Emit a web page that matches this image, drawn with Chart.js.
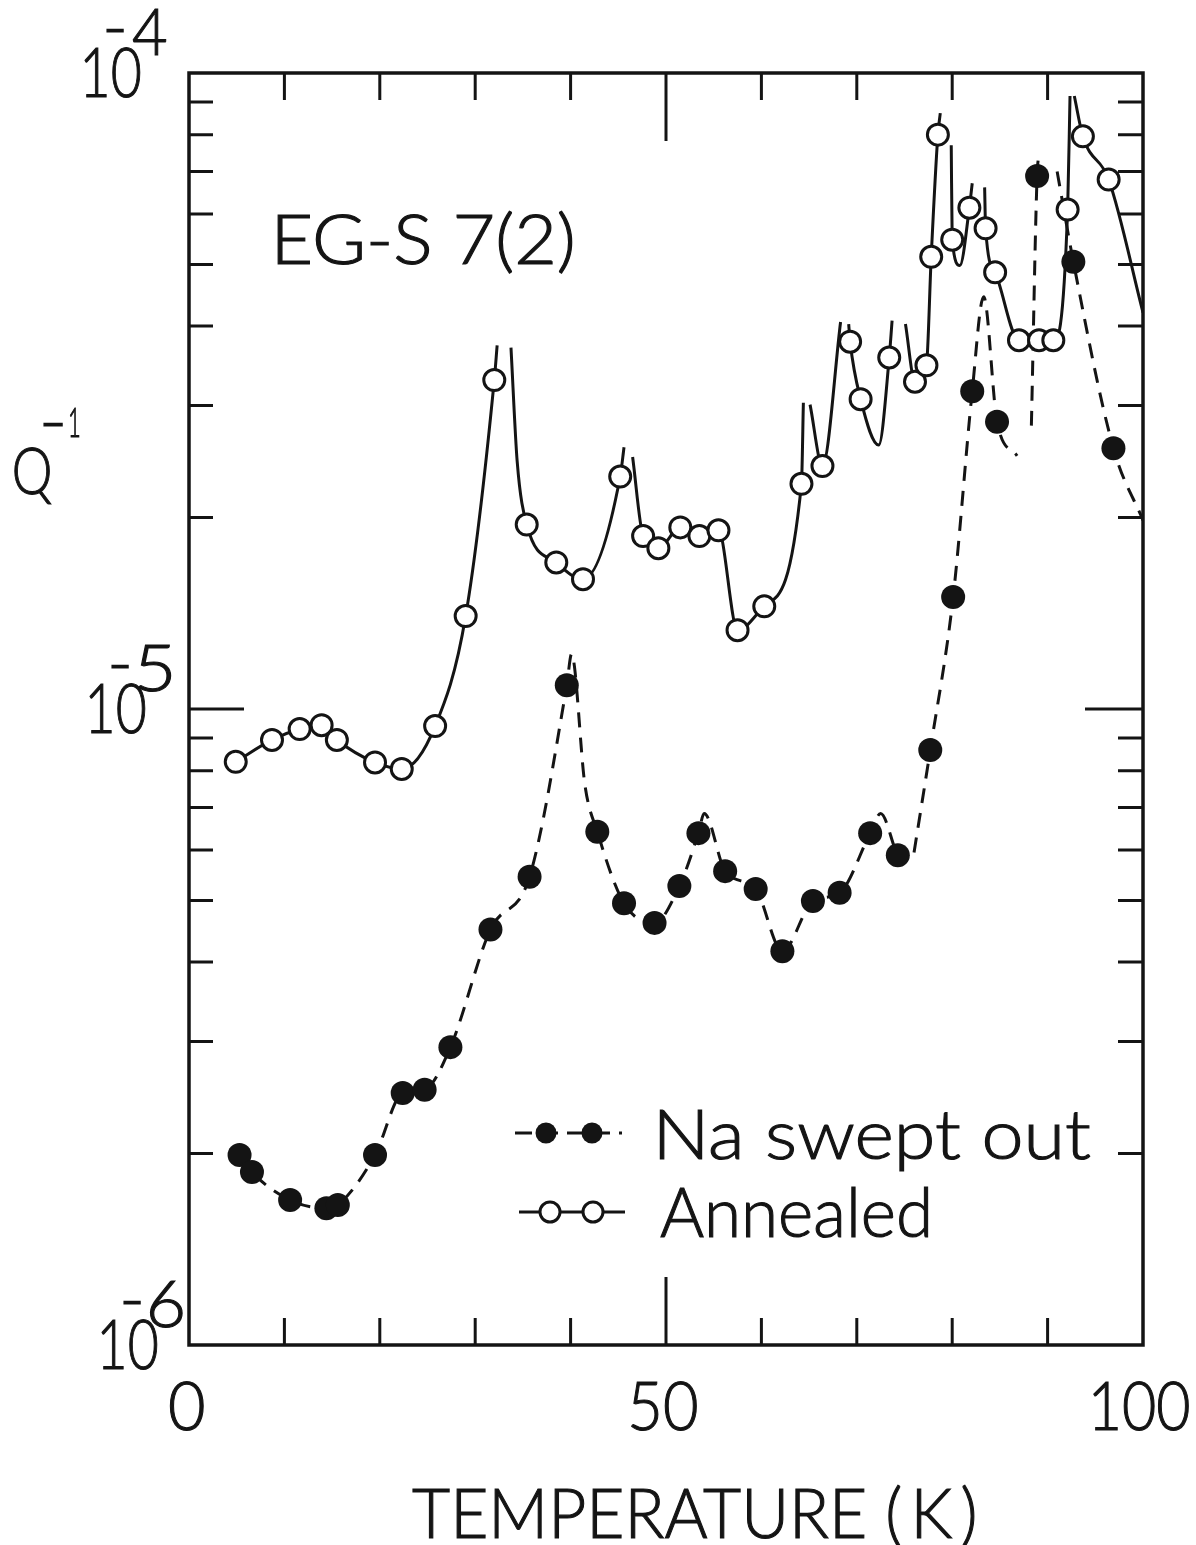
<!DOCTYPE html>
<html>
<head>
<meta charset="utf-8">
<script src="https://cdn.jsdelivr.net/npm/chart.js@4.4.1/dist/chart.umd.min.js"></script>
<style>
  html, body { margin: 0; padding: 0; background: #fff; }
  canvas { display: block; }
</style>
</head>
<body>
<canvas id="c" width="1196" height="1545"></canvas>
<script>
// Internal friction Q^-1 of quartz sample EG-S 7(2) versus temperature.

// Annealed sample: measured points
const annealedT = [4.9, 8.7, 11.6, 13.9, 15.5, 19.5, 22.3, 25.8, 29.0, 32.0, 35.4, 38.5, 41.3,
  45.2, 47.6, 49.2, 51.5, 53.5, 55.5, 57.5, 60.3, 64.2, 66.4, 69.3, 70.4, 73.4, 76.1, 77.3,
  77.8, 78.5, 80.0, 81.8, 83.5, 84.5, 87.0, 89.1, 90.6, 92.1, 93.7, 96.4];
const annealedQ = [8.26e-6, 8.94e-6, 9.30e-6, 9.43e-6, 8.94e-6, 8.24e-6, 8.05e-6, 9.40e-6, 1.40e-5,
  3.29e-5, 1.95e-5, 1.70e-5, 1.60e-5, 2.32e-5, 1.87e-5, 1.79e-5, 1.93e-5, 1.87e-5, 1.91e-5,
  1.33e-5, 1.45e-5, 2.26e-5, 2.41e-5, 3.78e-5, 3.07e-5, 3.57e-5, 3.27e-5, 3.47e-5, 5.14e-5,
  8.00e-5, 5.47e-5, 6.14e-5, 5.70e-5, 4.86e-5, 3.80e-5, 3.80e-5, 3.80e-5, 6.10e-5, 7.95e-5, 6.80e-5];
// Annealed sample: further nodes of the drawn curve (null = pen lifted at a resonance peak)
const annealedCurveT = [32.3, 33.0, 33.75, 34.4, 45.6, 46.05, 46.5, 64.4, 64.75, 65.1, 68.3, 68.75,
  69.15, 72.3, 73.7, 74.4, 75.1, 78.75, 79.35, 79.9, 80.8, 82.1, 82.8, 83.4, 92.35, 92.55, 92.8, 100];
const annealedCurveQ = [3.73e-5, null, 3.70e-5, 2.45e-5, 2.58e-5, null, 2.49e-5, 3.03e-5, null, 3.01e-5,
  4.06e-5, null, 4.03e-5, 2.60e-5, 4.08e-5, null, 4.03e-5, 8.65e-5, null, 7.70e-5, 4.98e-5, 6.71e-5,
  null, 6.61e-5, 9.20e-5, null, 9.20e-5, 4.20e-5];

// Na swept out sample: measured points
const sweptT = [5.3, 6.6, 10.6, 14.4, 15.6, 19.5, 22.4, 24.7, 27.4, 31.6, 35.7, 39.6, 42.8, 45.6,
  48.8, 51.4, 53.4, 56.2, 59.4, 62.2, 65.4, 68.2, 71.4, 74.3, 77.7, 80.1, 82.1, 84.7, 88.9, 92.7, 96.9];
const sweptQ = [1.99e-6, 1.87e-6, 1.69e-6, 1.64e-6, 1.66e-6, 1.99e-6, 2.49e-6, 2.52e-6, 2.94e-6,
  4.50e-6, 5.45e-6, 1.09e-5, 6.41e-6, 4.95e-6, 4.61e-6, 5.27e-6, 6.38e-6, 5.56e-6, 5.21e-6,
  4.16e-6, 4.99e-6, 5.14e-6, 6.38e-6, 5.89e-6, 8.62e-6, 1.50e-5, 3.16e-5, 2.83e-5, 6.89e-5,
  5.05e-5, 2.57e-5];
// Na swept out sample: further nodes of the drawn curve
const sweptCurveT = [40.1, 41.5, 54.0, 72.5, 75.2, 75.6, 76.0, 83.3, 86.8, 87.6, 88.3, 89.1, 90.1, 91.0, 100];
const sweptCurveQ = [1.22e-5, 7.6e-6, 6.85e-6, 6.85e-6, 5.75e-6, null, 5.95e-6, 4.45e-5, 2.50e-5, null,
  2.79e-5, 7.47e-5, null, 7.00e-5, 1.98e-5];

// Axis ticks and labels
const xLabelValues = [0, 50, 100];
const xLabels = ['0', '50', '100'];
const xMinorTicks = [10, 20, 30, 40, 60, 70, 80, 90];
const xMajorTicks = [50];
const decadeValues = [1e-4, 1e-5, 1e-6];
const decadeExponents = ['4', '5', '6'];
const yMajorTicks = [1e-5];
const yMinorTicks = [2e-6, 3e-6, 4e-6, 5e-6, 6e-6, 7e-6, 8e-6, 9e-6,
                     2e-5, 3e-5, 4e-5, 5e-5, 6e-5, 7e-5, 8e-5, 9e-5];

const seriesNames = ['Na swept out', 'Annealed'];
const sampleName = 'EG-S 7(2)';
const xTitle = 'TEMPERATURE (\u2009K\u2009)';

const INK = '#141414';
const FONT = '"Lato", "DejaVu Sans", sans-serif';
const WEIGHT = '300';

function pts(t, q) { return t.map((x, i) => ({ x: x, y: q[i] })); }
function curve(t, q, ct, cq) {
  return pts(t, q).concat(pts(ct, cq)).sort((a, b) => a.x - b.x);
}

function fontFor(ctx, cap) {
  ctx.font = WEIGHT + ' 100px ' + FONT;
  const a = ctx.measureText('H').actualBoundingBoxAscent || 72;
  return WEIGHT + ' ' + (cap * 100 / a).toFixed(2) + 'px ' + FONT;
}
// pen-like lettering: fill plus a thin outline to give the strokes some body
function pen(ctx, text, x, y) {
  ctx.fillText(text, x, y);
  ctx.strokeText(text, x, y);
}
// text whose ink starts at x (or is centred on x when centre=true), sitting on baseline
function inkText(ctx, text, x, baseline, cap, width, centre) {
  ctx.font = fontFor(ctx, cap);
  const m = ctx.measureText(text);
  const ink = m.actualBoundingBoxLeft + m.actualBoundingBoxRight;
  const sx = width ? width / ink : 1;
  ctx.save();
  ctx.translate(centre ? x - (width || ink) / 2 : x, baseline);
  ctx.scale(sx, 1);
  ctx.textAlign = 'left';
  ctx.textBaseline = 'alphabetic';
  ctx.lineWidth = 1.1;
  pen(ctx, text, m.actualBoundingBoxLeft, 0);
  ctx.restore();
}
// small glyph (minus sign) centred on (cx, cy)
function inkCentre(ctx, text, cx, cy, cap, width) {
  ctx.font = fontFor(ctx, cap);
  const m = ctx.measureText(text);
  const ink = m.actualBoundingBoxLeft + m.actualBoundingBoxRight;
  const sx = width ? width / ink : 1;
  ctx.save();
  ctx.translate(cx, cy);
  ctx.scale(sx, 1);
  ctx.textAlign = 'left';
  ctx.textBaseline = 'alphabetic';
  ctx.lineWidth = 1.1;
  pen(ctx, text, (m.actualBoundingBoxLeft - m.actualBoundingBoxRight) / 2,
    (m.actualBoundingBoxAscent - m.actualBoundingBoxDescent) / 2);
  ctx.restore();
}

const framePlugin = {
  id: 'frame',
  afterDraw(chart) {
    const ctx = chart.ctx;
    const xs = chart.scales.x, ys = chart.scales.y;
    const a = chart.chartArea;
    ctx.save();
    ctx.strokeStyle = INK;
    ctx.fillStyle = INK;
    ctx.lineCap = 'butt';

    // plot frame
    ctx.lineWidth = 3.5;
    ctx.strokeRect(a.left, a.top, a.right - a.left, a.bottom - a.top);

    // inward ticks on all four sides
    ctx.lineWidth = 3;
    ctx.beginPath();
    const xt = (v, len) => {
      const px = xs.getPixelForValue(v);
      ctx.moveTo(px, a.top); ctx.lineTo(px, a.top + len);
      ctx.moveTo(px, a.bottom); ctx.lineTo(px, a.bottom - len);
    };
    xMinorTicks.forEach(v => xt(v, 27));
    xMajorTicks.forEach(v => xt(v, 68));
    const yt = (v, lenL, lenR) => {
      const py = ys.getPixelForValue(v);
      ctx.moveTo(a.left, py); ctx.lineTo(a.left + lenL, py);
      ctx.moveTo(a.right, py); ctx.lineTo(a.right - lenR, py);
    };
    yMinorTicks.forEach(v => yt(v, 24, 25));
    yMajorTicks.forEach(v => yt(v, 55, 58));
    ctx.stroke();

    // x tick labels
    const labelWidths = [34, 66, 96];
    xLabelValues.forEach((v, i) => {
      inkText(ctx, xLabels[i], xs.getPixelForValue(v) - 2, a.bottom + 85, 48, labelWidths[i], true);
    });
    // decade labels 10^-n
    const mantLeft = [85, 90, 102];
    decadeValues.forEach((v, i) => {
      const py = ys.getPixelForValue(v);
      const l = mantLeft[i];
      inkText(ctx, '10', l, py + 24, 50, 55);
      inkCentre(ctx, '-', l + 30, py - 43, 47, 17);
      inkText(ctx, decadeExponents[i], l + 48, py - 18, 47, 33);
    });

    // axis titles
    inkText(ctx, xTitle, 412, 1538, 49, 562);
    inkText(ctx, 'Q', 14, 494, 47, 37);
    inkCentre(ctx, '-', 53, 424, 47, 19);
    inkText(ctx, '1', 70, 437, 30, 9);

    // sample name
    inkText(ctx, sampleName, 278, 264, 49, 294);

    // key
    const r1 = 1133, r2 = 1212;
    ctx.lineWidth = 3;
    ctx.setLineDash([17, 9]);
    ctx.beginPath(); ctx.moveTo(515, r1); ctx.lineTo(622, r1); ctx.stroke();
    ctx.setLineDash([]);
    [546, 592].forEach(cx => { ctx.beginPath(); ctx.arc(cx, r1, 10.5, 0, Math.PI * 2); ctx.fill(); });
    ctx.beginPath(); ctx.moveTo(519, r2); ctx.lineTo(625, r2); ctx.stroke();
    [550, 593].forEach(cx => {
      ctx.beginPath(); ctx.arc(cx, r2, 10, 0, Math.PI * 2);
      ctx.fillStyle = '#fff'; ctx.fill(); ctx.stroke(); ctx.fillStyle = INK;
    });
    inkText(ctx, seriesNames[0], 660, 1159, 50, 430);
    inkText(ctx, seriesNames[1], 660, 1237, 50, 268);
    ctx.restore();
  }
};

function draw() {
  const ctx = document.getElementById('c').getContext('2d');
  new Chart(ctx, {
    type: 'scatter',
    data: {
      datasets: [
        {
          label: seriesNames[1],
          data: pts(annealedT, annealedQ),
          showLine: false,
          pointRadius: 10.5,
          pointBorderWidth: 3,
          pointBackgroundColor: '#fff',
          pointBorderColor: INK
        },
        {
          label: seriesNames[0],
          data: pts(sweptT, sweptQ),
          showLine: false,
          pointRadius: 12,
          pointBorderWidth: 0,
          pointBackgroundColor: INK,
          pointBorderColor: INK
        },
        {
          label: seriesNames[1] + ' curve',
          data: curve(annealedT, annealedQ, annealedCurveT, annealedCurveQ),
          showLine: true,
          spanGaps: false,
          pointRadius: 0,
          borderColor: INK,
          borderWidth: 3,
          cubicInterpolationMode: 'monotone'
        },
        {
          label: seriesNames[0] + ' curve',
          data: curve(sweptT, sweptQ, sweptCurveT, sweptCurveQ),
          showLine: true,
          spanGaps: false,
          pointRadius: 0,
          borderColor: INK,
          borderWidth: 3,
          borderDash: [15, 10],
          cubicInterpolationMode: 'monotone'
        }
      ]
    },
    options: {
      responsive: false,
      animation: false,
      devicePixelRatio: 1,
      events: [],
      layout: { padding: { left: 189, top: 73, right: 53, bottom: 200 } },
      plugins: { legend: { display: false }, tooltip: { enabled: false } },
      scales: {
        x: { type: 'linear', min: 0, max: 100, display: false },
        y: { type: 'logarithmic', min: 1e-6, max: 1e-4, display: false }
      }
    },
    plugins: [framePlugin]
  });
}

const ready = (document.fonts && document.fonts.load)
  ? Promise.race([document.fonts.load('300 50px Lato'), new Promise(r => setTimeout(r, 800))])
  : Promise.resolve();
ready.then(draw, draw);
</script>
</body>
</html>
